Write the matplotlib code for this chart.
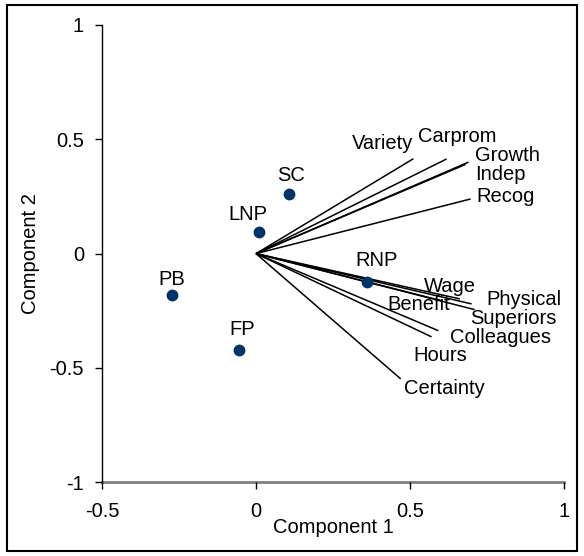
import matplotlib.pyplot as plt
from matplotlib.patches import Rectangle

plt.rcParams['font.family'] = ['Liberation Sans', 'DejaVu Sans']

# loading vectors (component 1, component 2)
variables = ['Variety', 'Carprom', 'Growth', 'Indep', 'Recog',
             'Wage', 'Physical', 'Benefit', 'Superiors', 'Colleagues',
             'Hours', 'Certainty']
load_x = [0.511, 0.619, 0.69, 0.68, 0.697,
          0.662, 0.70, 0.60, 0.71, 0.592,
          0.57, 0.47]
load_y = [0.415, 0.414, 0.40, 0.39, 0.239,
          -0.198, -0.22, -0.205, -0.245, -0.337,
          -0.364, -0.548]

# group scores
groups = ['SC', 'LNP', 'PB', 'FP', 'RNP']
score_x = [0.108, 0.011, -0.274, -0.054, 0.362]
score_y = [0.262, 0.095, -0.182, -0.42, -0.124]

x_ticks = [-0.5, 0, 0.5, 1]
y_ticks = [-1, -0.5, 0, 0.5, 1]

# label offsets in pixels from the end of each vector / each point
var_offsets = {
    'Variety': (-31, 15), 'Carprom': (11, 22), 'Growth': (39, 7),
    'Indep': (35, -10), 'Recog': (35, 2), 'Wage': (-10, 12),
    'Physical': (52, 4), 'Benefit': (-22, -4), 'Superiors': (39, -9),
    'Colleagues': (62, -7), 'Hours': (9, -19), 'Certainty': (44, -10),
}
grp_offsets = {'SC': (2, 18), 'LNP': (-12, 17), 'PB': (0, 16),
               'FP': (3, 20), 'RNP': (9, 21)}

fs = 14.5
fig = plt.figure(figsize=(5.84, 5.56), dpi=100)
ax = fig.add_axes([0.1747, 0.1326, 0.791, 0.8225])

for name, vx, vy in zip(variables, load_x, load_y):
    ax.plot([0, vx], [0, vy], color='black', lw=1.1, zorder=2,
            solid_capstyle='butt')
    ax.annotate(name, (vx, vy), xytext=var_offsets[name],
                textcoords='offset pixels', ha='center', va='center',
                fontsize=fs, zorder=4)

ax.plot(score_x, score_y, 'o', color='#003366', ms=7.5, zorder=3,
        linestyle='none')
for name, sx, sy in zip(groups, score_x, score_y):
    ax.annotate(name, (sx, sy), xytext=grp_offsets[name],
                textcoords='offset pixels', ha='center', va='center',
                fontsize=fs, zorder=4)

ax.set_xlim(-0.5, 1)
ax.set_ylim(-1, 1)
ax.set_xticks(x_ticks)
ax.set_yticks(y_ticks)
ax.set_xticklabels([f'{v:g}' for v in x_ticks])
ax.set_yticklabels([f'{v:g}' for v in y_ticks])
ax.tick_params(direction='out', length=5, width=1, labelsize=fs,
               color='black')
ax.tick_params(axis='x', pad=9)
ax.tick_params(axis='y', pad=8)

for side in ['top', 'right']:
    ax.spines[side].set_visible(False)
ax.spines['left'].set_color('black')
ax.spines['left'].set_linewidth(1)
ax.spines['bottom'].set_color('#808080')
ax.spines['bottom'].set_linewidth(2)
ax.spines['bottom'].set_zorder(1)

ax.set_xlabel('Component 1', fontsize=fs, labelpad=-2)
ax.set_ylabel('Component 2', fontsize=fs, labelpad=7)

# frame around the whole chart
fig.patches.append(Rectangle((7 / 584, 5 / 556), 570 / 584, 546 / 556,
                             transform=fig.transFigure, fill=False,
                             edgecolor='black', lw=1.5))

fig.savefig('out.png', dpi=100)
